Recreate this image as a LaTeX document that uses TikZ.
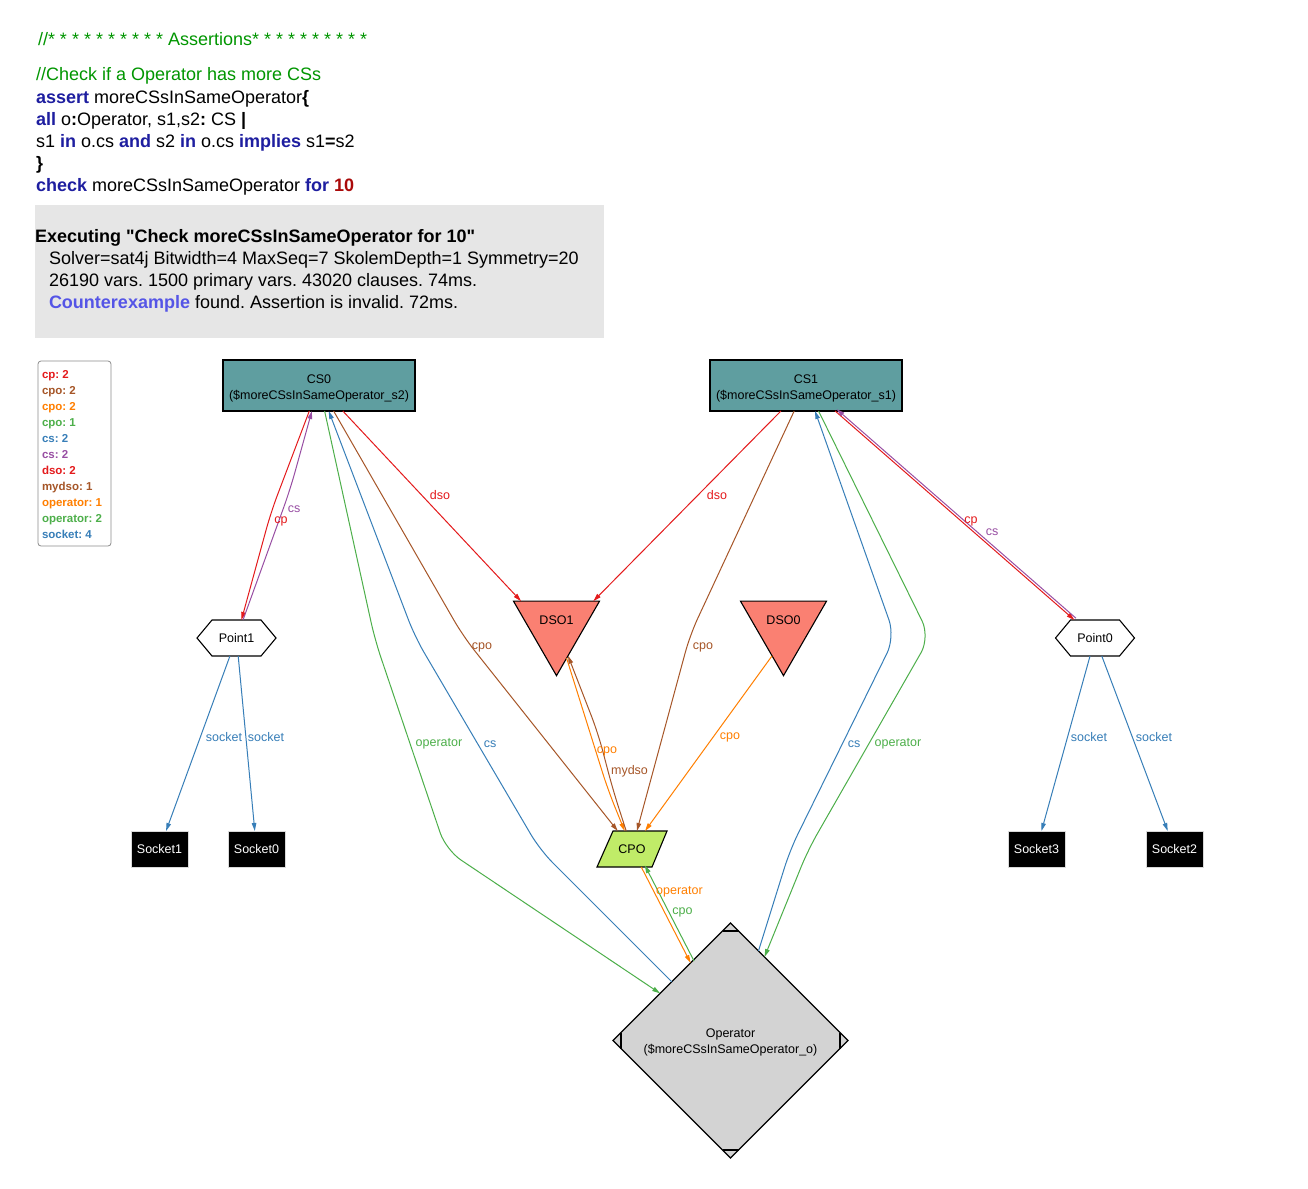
\documentclass[tikz,border=0pt]{standalone}
\usepackage{fontspec}
\setmainfont{Liberation Sans}
% same face without the TeX quote mapping, for straight double quotes
\newfontfamily\straightq{Liberation Sans}[Ligatures=TeXOff]
\usetikzlibrary{arrows.meta,shapes.geometric,backgrounds}
\frenchspacing

% Set1-style relation colours
\definecolor{cpred}{HTML}{E41A1C}
\definecolor{eblue}{HTML}{377EB8}
\definecolor{egreen}{HTML}{4DAF4A}
\definecolor{epurple}{HTML}{984EA3}
\definecolor{eorange}{HTML}{FF7F00}
\definecolor{ebrown}{HTML}{A65628}
% node fills
\definecolor{csfill}{HTML}{5F9EA0}
\definecolor{dsofill}{HTML}{FA8072}
\definecolor{cpofill}{RGB}{192,236,104}
\definecolor{opfill}{HTML}{D3D3D3}
% source text colours
\definecolor{cmtgreen}{RGB}{0,150,0}
\definecolor{kwblue}{RGB}{30,30,160}
\definecolor{numred}{RGB}{170,10,10}
\definecolor{cexblue}{RGB}{85,85,230}
\definecolor{boxgray}{RGB}{230,230,230}

\newcommand\cdfont{\fontsize{18}{20}\selectfont}
\newcommand\ndfont{\fontsize{12.5}{16}\selectfont}
\newcommand\lgfont{\fontsize{11.5}{13}\selectfont\bfseries}
\newcommand\kwd[1]{\textcolor{kwblue}{\bfseries #1}}
\newcommand\dq{{\straightq\bfseries"}}
% move a label by #1 while keeping its box, so the node stays centred
\newcommand\nudge[2]{\raisebox{#1}[\height][\depth]{#2}}
% two centred lines, 16pt apart
\newcommand\twolines[2]{\begin{tabular}{@{}c@{}}#1\\#2\end{tabular}}

\begin{document}
\begin{tikzpicture}[x=1pt,y=-1pt,
  every node/.style={inner sep=0pt, outer sep=0pt, font=\ndfont},
  codeline/.style={anchor=base west, font=\cdfont},
  csbox/.style={draw, line width=1.1pt, fill=csfill, minimum width=192pt,
    minimum height=51pt},
  sock/.style={draw=black!15, line width=0.8pt, fill=black, text=white,
    minimum width=57pt, minimum height=36pt},
  dsotri/.style={regular polygon, regular polygon sides=3,
    shape border rotate=180, minimum size=99.3pt, draw, line width=1.1pt,
    fill=dsofill},
  conn/.style={line width=1pt, -{Triangle[length=8pt,width=4.5pt]},
    rounded corners=18pt},
]
\begin{pgfonlayer}{background}
  \fill[white] (0,0) rectangle (1308,1188);
\end{pgfonlayer}
\useasboundingbox (0,0) rectangle (1308,1188);

% ---- source of the assertion ----
\node[codeline, text=cmtgreen] (l0) at (38,46)
  {//* * * * * * * * * * Assertions* * * * * * * * * *};
\node[codeline, text=cmtgreen] (l1) at (36,81) {//Check if a Operator has more CSs};
\node[codeline] (l2) at (36,103) {\kwd{assert} moreCSsInSameOperator\textbf{\{}};
\node[codeline] (l3) at (36,125) {\kwd{all} o\textbf{:}Operator, s1,s2\textbf{:} CS \textbf{|}};
\node[codeline] (l4) at (36,147)
  {s1 \kwd{in} o.cs \kwd{and} s2 \kwd{in} o.cs \kwd{implies} s1\textbf{=}s2};
\node[codeline] (l5) at (36,169) {\textbf{\}}};
\node[codeline] (l6) at (36,191)
  {\kwd{check} moreCSsInSameOperator \kwd{for} \textcolor{numred}{\bfseries 10}};

% ---- solver output ----
\fill[boxgray] (35,205) rectangle (604,338);
\node[codeline] (r0) at (35,242)
  {\bfseries Executing \dq Check moreCSsInSameOperator for 10\dq};
\node[codeline] (r1) at (49,264) {Solver=sat4j Bitwidth=4 MaxSeq=7 SkolemDepth=1 Symmetry=20};
\node[codeline] (r2) at (49,286) {26190 vars. 1500 primary vars. 43020 clauses. 74ms.};
\node[codeline] (r3) at (49,308)
  {\textcolor{cexblue}{\bfseries Counterexample} found. Assertion is invalid. 72ms.};

% ---- legend ----
\draw[rounded corners=3pt, draw=black!45, line width=0.8pt, fill=white]
  (38,361) rectangle (111,546);
\foreach \t/\c [count=\i from 0] in {cp: 2/cpred, cpo: 2/ebrown, cpo: 2/eorange,
    cpo: 1/egreen, cs: 2/eblue, cs: 2/epurple, dso: 2/cpred, mydso: 1/ebrown,
    operator: 1/eorange, operator: 2/egreen, socket: 4/eblue}
  \node[anchor=base west, font=\lgfont, text=\c] (lg\i) at (42,378+16*\i) {\t};

% ---- instance nodes ----
\node[csbox] (cs0) at (319,385.5)
  {\nudge{-3pt}{\twolines{CS0}{(\$moreCSsInSameOperator\_s2)}}};
\node[csbox] (cs1) at (806,385.5)
  {\nudge{-3pt}{\twolines{CS1}{(\$moreCSsInSameOperator\_s1)}}};
\node[minimum width=79pt, minimum height=36pt] (pt1) at (236.5,638) {Point1};
\node[minimum width=79pt, minimum height=36pt] (pt0) at (1095,638) {Point0};
\node[dsotri] (dso1) at (556.5,626) {\nudge{6pt}{DSO1}};
\node[dsotri] (dso0) at (783.5,626) {\nudge{6pt}{DSO0}};
\node[minimum width=70pt, minimum height=36pt] (cpo) at (632,849) {CPO};
\node[sock] (s1) at (159.5,849) {Socket1};
\node[sock] (s0) at (256.5,849) {Socket0};
\node[sock] (s3) at (1036.5,849) {Socket3};
\node[sock] (s2) at (1174.5,849) {Socket2};
\node[diamond, aspect=1, draw, line width=1.1pt, fill=opfill, minimum width=235pt,
  minimum height=235pt] (op) at (730.5,1040.5)
  {\nudge{-2pt}{\twolines{Operator}{(\$moreCSsInSameOperator\_o)}}};
% corner marks of the Mdiamond
\draw[line width=1.1pt] ([shift={(-8pt,-8pt)}]op.north) -- ([shift={(8pt,-8pt)}]op.north);
\draw[line width=1.1pt] ([shift={(-8pt,8pt)}]op.south) -- ([shift={(8pt,8pt)}]op.south);
\draw[line width=1.1pt] ([shift={(8pt,8pt)}]op.west) -- ([shift={(8pt,-8pt)}]op.west);
\draw[line width=1.1pt] ([shift={(-8pt,8pt)}]op.east) -- ([shift={(-8pt,-8pt)}]op.east);

% hexagons and parallelogram behind their labels
\begin{pgfonlayer}{background}
  \foreach \p in {pt1,pt0}
    \filldraw[fill=white, draw=black, line width=1.1pt]
      (\p.west) -- ([xshift=15pt]\p.north west) -- ([xshift=-15pt]\p.north east)
      -- (\p.east) -- ([xshift=-15pt]\p.south east) -- ([xshift=15pt]\p.south west)
      -- cycle;
  \filldraw[fill=cpofill, draw=black, line width=1.1pt]
    ([xshift=16pt]cpo.north west) -- (cpo.north east)
    -- ([xshift=-15pt]cpo.south east) -- (cpo.south west) -- cycle;
\end{pgfonlayer}

% ---- relations ----
\draw[conn, cpred] (cs0) -- (271,512) -- (pt1);
\draw[conn, epurple] (pt1) -- (290,490) -- (cs0);
\draw[conn, cpred] (cs0) -- (dso1.145);
\draw[conn, cpred] (cs1) -- (dso1.34);
\draw[conn, ebrown] (cs0) -- (463,636) -- (cpo);
\draw[conn, ebrown] (cs1) -- (690,635) -- (cpo);
\draw[conn, eorange] (dso0.249) -- (cpo);
\draw[conn, eorange] (dso1) -- (608,790) -- (cpo);
\draw[conn, ebrown] (cpo) -- (613,790) -- (598,733) -- (dso1);
\draw[conn, egreen] (cs0) -- (375,640) -- (446,850) -- (op);
\draw[conn, eblue] (op) -- (540,850) -- (415,637) -- (cs0);
\draw[conn, egreen] (cs1) -- (930,637) -- (808,850) -- (op);
\draw[conn, eblue] (op) -- (790,850) -- (895,637) -- (cs1);
\draw[conn, cpred] (cs1) -- (pt0);
\draw[conn, epurple, transform canvas={xshift=1.5pt,yshift=1.8pt}] (pt0) -- (cs1);
\draw[conn, eblue] (pt1) -- (s1);
\draw[conn, eblue] (pt1) -- (s0);
\draw[conn, eblue] (pt0) -- (s3);
\draw[conn, eblue] (pt0) -- (s2);
\draw[conn, eorange] (cpo) -- (op);
\draw[conn, egreen, transform canvas={xshift=3.5pt,yshift=1.8pt}] (op) -- (cpo);

% ---- relation labels ----
\node[text=cpred] (t1) at (281,521) {cp};
\node[text=epurple] (t2) at (294,509) {cs};
\node[text=cpred] (t3) at (440,495) {dso};
\node[text=cpred] (t4) at (717,495) {dso};
\node[text=ebrown] (t5) at (482,647) {cpo};
\node[text=ebrown] (t6) at (703,647) {cpo};
\node[text=egreen] (t7) at (439,744) {operator};
\node[text=eblue] (t8) at (490,744) {cs};
\node[text=eorange] (t9) at (607,751) {cpo};
\node[text=ebrown] (t10) at (629.5,771) {mydso};
\node[text=eorange] (t11) at (730,737) {cpo};
\node[text=eblue] (t12) at (854,744) {cs};
\node[text=egreen] (t13) at (898,744) {operator};
\node[text=cpred] (t14) at (971,521) {cp};
\node[text=epurple] (t15) at (992,532) {cs};
\node[text=eblue] (t16) at (224,737) {socket};
\node[text=eblue] (t17) at (266,737) {socket};
\node[text=eblue] (t18) at (1089,737) {socket};
\node[text=eblue] (t19) at (1154,737) {socket};
\node[text=eorange] (t20) at (679.5,892) {operator};
\node[text=egreen] (t21) at (682.5,912) {cpo};
\end{tikzpicture}
\end{document}
